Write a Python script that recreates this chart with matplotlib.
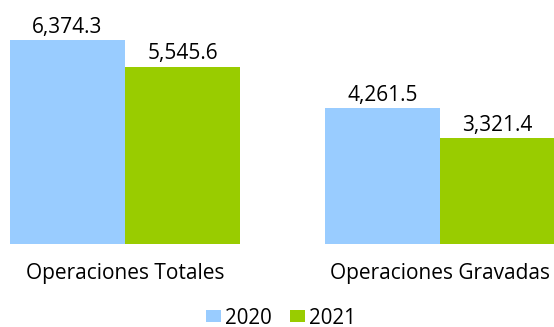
import matplotlib.pyplot as plt
import numpy as np

categorias = ['Operaciones Totales', 'Operaciones Gravadas']
anios = ['2020', '2021']
valores_2020 = [6374.3, 4261.5]
valores_2021 = [5545.6, 3321.4]
colores = ['#99CCFF', '#99CC00']

plt.rcParams['font.family'] = ['Open Sans', 'DejaVu Sans']

W, H = 554, 327
fig = plt.figure(figsize=(W / 100, H / 100), dpi=100)
# plot area in pixel coords: x 10..554, y 0..244
ax = fig.add_axes([10 / W, 1 - 244 / H, 544 / W, 244 / H])

x = np.arange(len(categorias))
ancho = 115 / 315
b1 = ax.bar(x - ancho / 2, valores_2020, ancho, color=colores[0], label=anios[0])
b2 = ax.bar(x + ancho / 2, valores_2021, ancho, color=colores[1], label=anios[1])

for barras in (b1, b2):
    for r in barras:
        v = r.get_height()
        ax.annotate(f'{v:,.1f}', (r.get_x() + r.get_width() / 2, v),
                    xytext=(0, 1.5), textcoords='offset points',
                    ha='center', va='bottom', fontsize=15, color='#000000')

ax.set_xlim(-ancho, 1 + 114 / 315)
ax.set_ylim(0, 6374.3 * 244 / 204)
ax.set_xticks(x)
ax.set_xticklabels(categorias, fontsize=15)
ax.tick_params(axis='x', length=0, pad=14)
ax.set_yticks([])
for s in ax.spines.values():
    s.set_visible(False)

fig.legend(handles=[b1, b2], labels=anios, loc='center', bbox_to_anchor=(281 / W, 1 - 318 / H),
           ncol=2, frameon=False, fontsize=14.8, handlelength=0.7, handleheight=0.55,
           handletextpad=0.2, columnspacing=0.9, borderpad=0)

fig.savefig('out.png', dpi=100)
